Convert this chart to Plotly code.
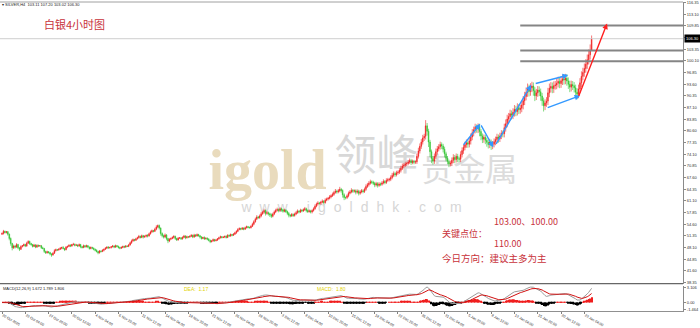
import numpy as np
import pandas as pd
import plotly.graph_objects as go

# ---------------- data (SILVER, H4) ----------------
first_open = 51.8
close_oct = [52.0, 52.6, 52.3,
             52.5, 51.8, 50.6, 49.2, 48.0, 48.5,
             48.2, 48.9, 48.0, 47.6, 48.4, 48.6,
             48.9, 48.5, 49.3, 49.8, 49.2, 48.9,
             48.4, 48.8, 48.2, 48.7, 48.5, 48.6,
             48.0, 47.8, 47.0, 46.6, 46.9, 46.7,
             46.3, 46.0, 46.5, 47.2, 47.5, 47.4,
             47.6, 47.9, 48.1, 47.8, 47.5, 48.2,
             48.4, 48.7, 48.5, 48.9, 49.0, 48.7,
             48.8, 48.5, 48.9, 48.3, 48.1, 48.6]
close_nov = [48.3, 48.6, 48.2, 47.8, 48.1, 47.9,
             47.6, 47.3, 47.0, 46.6, 47.1, 47.0,
             47.3, 47.6, 47.9, 48.2, 48.0, 48.1,
             48.3, 48.5, 48.2, 48.6, 48.4, 48.1,
             47.9, 48.1, 48.4, 48.2, 48.5, 48.4,
             48.8, 49.4, 49.9, 50.3, 50.1, 50.5,
             50.8, 51.2, 50.9, 51.4, 51.0, 51.2,
             51.5, 51.3, 51.9, 52.4, 52.8, 52.6,
             53.2, 53.8, 54.2, 53.5, 52.0, 51.4,
             51.0, 51.6, 50.6, 49.9, 50.4, 50.6,
             50.9, 51.2, 50.6, 50.2, 50.7, 50.8,
             50.5, 50.9, 51.3, 50.8, 51.1, 51.0,
             51.2, 51.5, 51.0, 51.6, 51.3, 51.7,
             51.4, 51.0, 50.6, 50.9, 50.5, 50.7,
             50.4, 50.1, 49.7, 49.9, 50.3, 50.0,
             50.2, 50.5, 50.8, 51.1, 50.9, 51.0,
             51.2, 50.9, 51.5, 51.3, 51.7, 51.5,
             51.8, 52.2, 52.6, 53.1, 53.4, 53.2,
             53.5, 53.2, 53.6, 53.9, 53.7, 53.6,
             54.0, 54.6, 55.3, 56.0, 56.6, 56.4]
close_dec = [56.9, 57.5, 57.9, 58.4, 57.6, 57.8,
             57.5, 57.2, 56.8, 57.4, 58.0, 58.4,
             58.7, 58.4, 58.9, 58.6, 58.2, 58.5,
             58.1, 57.6, 57.1, 56.9, 57.3, 57.0,
             57.4, 57.8, 58.2, 58.0, 58.5, 58.3,
             58.6, 58.9, 58.4, 58.1, 58.3, 58.0,
             58.4, 58.9, 59.6, 60.2, 60.5, 60.4,
             60.7, 61.0, 60.6, 61.3, 61.6, 61.8,
             62.2, 62.5, 62.9, 63.4, 63.8, 63.6,
             63.9, 64.3, 64.0, 62.8, 62.0, 62.0,
             62.5, 63.2, 63.6, 64.0, 63.8, 63.9,
             63.5, 63.8, 63.2, 63.6, 63.9, 63.7,
             64.3, 65.1, 65.6, 66.0, 66.4, 66.3,
             66.0, 65.5, 65.9, 65.4, 65.8, 65.7,
             66.1, 66.5, 66.2, 66.8, 67.0, 67.1,
             67.6, 68.2, 68.7, 68.4, 68.9, 69.1,
             69.6, 70.2, 70.8, 71.0, 71.4, 71.5,
             71.9, 72.3, 71.8, 72.1, 71.9, 72.0,
             73.5, 75.0, 76.3, 77.5, 78.6, 79.1,
             82.0, 80.5, 77.5, 74.8, 72.9, 72.2,
             73.5, 74.8, 75.6, 76.2, 76.8, 76.4,
             75.5, 74.2, 73.0, 72.1, 71.4, 71.6]
close_jan = [72.4, 73.2, 72.6, 73.5, 72.8, 72.7,
             74.0, 75.1, 76.0, 76.8, 77.3, 76.9,
             77.8, 78.9, 80.1, 80.9, 81.6, 81.2,
             81.8, 80.4, 79.2, 78.3, 78.8, 78.0,
             77.4, 76.8, 77.5, 76.5, 76.9, 77.6,
             78.2, 78.9, 78.4, 79.2, 79.9, 79.8,
             81.5, 82.6, 83.9, 84.6, 85.4, 85.0,
             85.8, 86.6, 86.0, 87.1, 86.5, 86.9,
             87.8, 89.0, 90.2, 91.3, 92.4, 91.6,
             92.6, 93.1, 91.8, 90.4, 91.2, 92.0,
             91.5, 90.3, 89.0, 87.6, 88.4, 88.9,
             91.2, 92.5, 93.0, 92.4, 93.2, 93.4,
             93.9, 94.4, 93.8, 94.6, 95.1, 94.8,
             95.3, 94.5, 93.6, 92.8, 93.5, 93.2,
             92.6, 91.4, 90.8, 92.3, 94.0, 95.8,
             96.9, 98.0, 99.2, 100.4, 101.8, 103.1,
             106.3]

# upper / lower shadow lengths in tenths of a dollar
wick_hi_oct = [3, 4, 2, 2, 2, 2, 3, 2, 4, 3, 4, 2, 2, 3, 2, 3, 2, 4, 3, 2, 2, 2, 3, 2, 3, 2, 2,
               2, 3, 2, 2, 3, 2, 2, 2, 3, 4, 3, 2, 3, 3, 2, 4, 2, 3, 2, 3, 3, 2, 4, 2, 3, 2, 3, 2, 2, 3]
wick_lo_oct = [2, 3, 3, 3, 4, 5, 6, 7, 3, 4, 2, 4, 5, 2, 3, 2, 3, 2, 2, 4, 3, 3, 2, 3, 2, 3, 2,
               3, 2, 4, 3, 2, 3, 4, 5, 2, 2, 2, 3, 2, 2, 3, 2, 4, 2, 3, 2, 3, 2, 2, 3, 2, 3, 2, 4, 3, 2]
wick_hi_nov = [2, 3, 2, 2, 3, 2, 2, 2, 3, 2, 3, 2, 3, 2, 3, 2, 3, 2, 2, 3, 2, 3, 2, 2,
               2, 3, 2, 2, 3, 2, 3, 3, 4, 3, 2, 3, 3, 4, 2, 3, 2, 3, 2, 3, 3, 4, 3, 2,
               4, 5, 3, 3, 2, 3, 3, 4, 2, 2, 3, 3, 3, 3, 2, 2, 3, 2, 2, 3, 3, 2, 3, 2,
               3, 3, 2, 3, 2, 3, 2, 2, 3, 2, 3, 2, 2, 3, 2, 3, 3, 2, 3, 2, 3, 3, 2, 2,
               2, 3, 3, 2, 3, 2, 3, 3, 3, 4, 3, 2, 3, 2, 3, 3, 2, 2, 3, 4, 4, 4, 5, 3]
wick_lo_nov = [3, 2, 3, 3, 2, 3, 3, 3, 3, 4, 2, 3, 2, 3, 2, 2, 3, 2, 3, 2, 3, 2, 3, 3,
               3, 2, 2, 3, 2, 2, 2, 2, 3, 2, 3, 2, 2, 2, 3, 2, 4, 2, 3, 4, 2, 2, 2, 3,
               2, 3, 3, 4, 6, 5, 4, 3, 5, 6, 3, 2, 2, 3, 4, 3, 2, 2, 3, 2, 2, 4, 2, 3,
               2, 2, 3, 2, 3, 2, 3, 4, 3, 2, 3, 2, 3, 3, 4, 2, 2, 3, 2, 3, 2, 2, 3, 2,
               3, 3, 2, 3, 2, 3, 2, 2, 3, 2, 2, 3, 2, 3, 2, 2, 3, 2, 2, 2, 3, 3, 2, 3]
wick_hi_dec = [4, 5, 4, 5, 3, 4, 3, 3, 4, 4, 4, 5, 5, 3, 4, 3, 3, 4, 3, 3, 4, 3, 4, 3,
               4, 4, 5, 3, 4, 3, 4, 5, 3, 3, 4, 3, 3, 4, 5, 4, 5, 3, 4, 5, 3, 5, 4, 4,
               5, 4, 5, 5, 6, 4, 5, 7, 4, 3, 4, 3, 4, 5, 5, 6, 4, 4, 4, 5, 4, 5, 5, 4,
               5, 6, 5, 6, 6, 4, 4, 4, 5, 4, 5, 4, 5, 6, 4, 6, 5, 4, 6, 7, 6, 5, 6, 5,
               6, 7, 7, 6, 6, 5, 6, 6, 5, 5, 4, 4, 8, 9, 8, 8, 9, 7, 16, 8, 7, 6, 6, 7,
               8, 9, 8, 7, 8, 6, 6, 7, 6, 6, 5, 7]
wick_lo_dec = [3, 4, 3, 4, 6, 4, 5, 6, 5, 3, 3, 3, 3, 5, 3, 5, 4, 3, 4, 5, 6, 4, 3, 4,
               3, 3, 3, 4, 3, 4, 3, 3, 5, 4, 3, 4, 4, 3, 3, 3, 4, 4, 4, 3, 5, 3, 3, 4,
               3, 4, 3, 4, 3, 5, 4, 4, 6, 8, 7, 5, 4, 4, 3, 4, 5, 4, 6, 4, 6, 4, 4, 5,
               4, 4, 4, 5, 4, 5, 5, 6, 4, 6, 4, 5, 4, 4, 5, 4, 4, 5, 5, 5, 5, 6, 5, 5,
               5, 6, 5, 6, 5, 6, 5, 5, 7, 5, 6, 5, 6, 6, 7, 7, 7, 8, 9, 12, 14, 15, 13, 10,
               8, 7, 8, 7, 8, 9, 9, 10, 9, 8, 9, 7]
wick_hi_jan = [8, 9, 7, 8, 7, 6, 9, 9, 8, 8, 9, 7, 9, 10, 10, 9, 10, 8, 9, 8, 7, 7, 8, 7,
               7, 8, 9, 7, 8, 9, 8, 9, 7, 9, 9, 8, 11, 12, 12, 10, 11, 9, 11, 12, 10, 12, 10, 10,
               12, 13, 13, 14, 14, 11, 13, 12, 10, 10, 11, 11, 10, 9, 9, 9, 10, 11, 14, 13, 12, 11, 12, 11,
               12, 13, 11, 13, 12, 11, 12, 11, 10, 10, 11, 10, 10, 9, 11, 12, 13, 14, 13, 14, 14, 15, 15, 16,
               9]
wick_lo_jan = [8, 8, 10, 8, 9, 8, 8, 8, 9, 8, 9, 10, 9, 10, 9, 10, 10, 11, 12, 13, 12, 11, 10, 11,
               12, 11, 10, 12, 10, 9, 10, 9, 11, 9, 9, 10, 10, 11, 10, 12, 11, 12, 11, 12, 13, 11, 12, 11,
               11, 12, 12, 11, 12, 14, 12, 12, 14, 15, 12, 11, 12, 13, 14, 16, 12, 11, 11, 12, 12, 13, 12, 11,
               12, 12, 13, 12, 12, 13, 12, 13, 13, 14, 12, 12, 13, 15, 14, 11, 11, 12, 11, 12, 12, 13, 13, 13,
               1]

x_tick_pos = [0, 16, 32, 48, 64, 80, 96, 112, 128, 144, 160, 176, 192, 208, 224,
              240, 256, 272, 288, 304, 320, 336, 352, 368, 384, 400]
x_tick_text = ["20 Oct 2025", "23 Oct 04:00", "27 Oct 20:00", "30 Oct 12:00", "4 Nov 04:00",
               "6 Nov 20:00", "11 Nov 12:00", "14 Nov 04:00", "18 Nov 20:00", "21 Nov 12:00",
               "26 Nov 04:00", "28 Nov 20:00", "3 Dec 12:00", "8 Dec 04:00", "10 Dec 20:00",
               "15 Dec 12:00", "18 Dec 04:00", "22 Dec 20:00", "26 Dec 12:00", "31 Dec 04:00",
               "5 Jan 20:00", "8 Jan 12:00", "13 Jan 04:00", "15 Jan 20:00", "20 Jan 12:00",
               "23 Jan 04:00"]
y_tick_text = ["116.35", "113.10", "109.85", "106.60", "103.35", "100.10", "96.85", "93.60",
               "90.35", "87.10", "83.85", "80.60", "77.35", "74.10", "70.85", "67.60", "64.35",
               "61.10", "57.85", "54.60", "51.35", "48.10", "44.85", "41.60", "38.35"]
key_levels = [110.0, 103.0, 100.0]
last_price = 106.30
macd_ticks = [3.106, 0.0, -1.464]
macd_tick_text = ["3.106", "0.00", "-1.464"]

# ---------------- build OHLC ----------------
closes = np.array(close_oct + close_nov + close_dec + close_jan, dtype=float)
opens = np.concatenate([[first_open], closes[:-1]])
hw = np.array(wick_hi_oct + wick_hi_nov + wick_hi_dec + wick_hi_jan, dtype=float) / 10
lw = np.array(wick_lo_oct + wick_lo_nov + wick_lo_dec + wick_lo_jan, dtype=float) / 10
highs = np.maximum(opens, closes) + hw
lows = np.minimum(opens, closes) - lw
idx = np.arange(len(closes))

s = pd.Series(closes)
dif = s.ewm(span=12, adjust=False).mean() - s.ewm(span=26, adjust=False).mean()
dea = dif.ewm(span=9, adjust=False).mean()
hist = dif - dea

# ---------------- layout geometry ----------------
W, H = 700, 328
ML, MR, MT, MB = 0, 16, 2, 9
PW, PH = W - ML - MR, H - MT - MB


def px_x(px):
    return (px - ML) / PW


def px_y(py):
    return (H - MB - py) / PH


def bar_of(px):
    return (px - 2) / 1.458


def price_of(py):
    return 38.0 + (291 - py) / 3.68


RED = "#f01e1e"
GREEN = "#2fc42f"
TXT_RED = "#c8323a"

fig = go.Figure()
fig.add_trace(go.Candlestick(
    x=idx, open=opens, high=highs, low=lows, close=closes,
    increasing=dict(line=dict(color=RED, width=0.6), fillcolor=RED),
    decreasing=dict(line=dict(color=GREEN, width=0.6), fillcolor=GREEN),
    whiskerwidth=0, xaxis="x", yaxis="y", showlegend=False, hoverinfo="skip"))

fig.add_trace(go.Bar(
    x=idx, y=hist, xaxis="x", yaxis="y2", width=0.75,
    marker=dict(color=[RED if v >= 0 else "#000000" for v in hist], line=dict(width=0)),
    showlegend=False, hoverinfo="skip"))
fig.add_trace(go.Scatter(x=idx, y=dif, xaxis="x", yaxis="y2", mode="lines",
                         line=dict(color="#9a9a9a", width=1), showlegend=False, hoverinfo="skip"))
fig.add_trace(go.Scatter(x=idx, y=dea, xaxis="x", yaxis="y2", mode="lines",
                         line=dict(color="#d01010", width=1), showlegend=False, hoverinfo="skip"))

shapes = []
# frame lines
shapes.append(dict(type="line", xref="paper", yref="paper", x0=0, x1=1, y0=1, y1=1,
                   line=dict(color="#a0a0a0", width=1)))
shapes.append(dict(type="line", xref="paper", yref="paper", x0=0, x1=1,
                   y0=px_y(291), y1=px_y(291), line=dict(color="#404040", width=1)))
# current price line
shapes.append(dict(type="line", xref="paper", yref="y", x0=0, x1=1, y0=last_price, y1=last_price,
                   line=dict(color="#cfcfcf", width=1)))
# key level lines
for lv in key_levels:
    shapes.append(dict(type="line", xref="x", yref="y", x0=bar_of(521), x1=bar_of(684), y0=lv, y1=lv,
                       line=dict(color="#858585", width=2)))


# watermark (below candles)
def wm(text, cx, cy, w, h, size, color, family):
    shapes.append(dict(type="rect", xref="paper", yref="paper",
                       x0=px_x(cx - w / 2), x1=px_x(cx + w / 2),
                       y0=px_y(cy + h / 2), y1=px_y(cy - h / 2),
                       line=dict(width=0), fillcolor="rgba(0,0,0,0)", layer="below",
                       label=dict(text=text, textposition="middle center",
                                  font=dict(size=size, color=color, family=family))))


wm("<b>igold</b>", 268, 168, 140, 60, 56, "#e9dbbd", "Liberation Serif")
wm("领峰", 377, 163, 90, 50, 42, "#d8d8d8", "Noto Sans CJK SC")
wm("贵金属", 470, 176, 110, 40, 32, "#dcdcdc", "Noto Sans CJK SC")
wm('<span style="letter-spacing:8px">www.igoldhk.com</span>', 356, 211, 310, 16, 14,
   "#d6d6d6", "Liberation Sans")

ann = []


def txt(text, x, y, size, color, family="Noto Sans CJK SC", anchor="left"):
    ann.append(dict(text=text, xref="paper", yref="paper", x=px_x(x), y=px_y(y),
                    xanchor=anchor, yanchor="middle", showarrow=False, borderpad=0,
                    font=dict(size=size, color=color, family=family)))


txt("▾ SILVER,H4  103.11 107.20 103.02 106.30", 1, 5, 4, "#202020", "Liberation Sans")
txt("白银4小时图", 43, 25, 11, TXT_RED)
txt("103.00、100.00", 494, 227, 9, TXT_RED)
txt("关键点位：", 442, 239, 9, TXT_RED)
txt("110.00", 494, 250, 9, TXT_RED)
txt("今日方向：建议主多为主", 442, 265, 9.5, TXT_RED)
txt("MACD(12,26,9) 1.672 1.789 1.806", 2, 296, 4, "#202020", "Liberation Sans")
txt("DEA:  1.17", 183, 296, 5, "#e2d200", "Liberation Sans")
txt("MACD:  1.80", 316, 296, 5, "#e2d200", "Liberation Sans")

# price tag on axis
ann.append(dict(text="106.30", xref="paper", yref="y", x=1, y=last_price, xanchor="left",
                yanchor="middle", xshift=1, showarrow=False, bgcolor="#000000", borderpad=1,
                font=dict(size=4, color="#ffffff", family="Liberation Sans")))


def arrow(p0, p1, color):
    ann.append(dict(text="", xref="x", yref="y", axref="x", ayref="y",
                    x=bar_of(p1[0]), y=price_of(p1[1]), ax=bar_of(p0[0]), ay=price_of(p0[1]),
                    showarrow=True, arrowhead=2, arrowsize=0.8, arrowwidth=1.4, arrowcolor=color))


BLUE = "#3399ff"
arrow((463, 150), (481, 127), BLUE)
arrow((481, 127), (494, 151), BLUE)
arrow((496, 149), (532, 87), BLUE)
arrow((535, 86), (569, 77), BLUE)
arrow((547, 111), (581, 98), BLUE)
arrow((579, 100), (608, 24), "#ff2020")

fig.update_layout(
    width=W, height=H, margin=dict(l=ML, r=MR, t=MT, b=MB),
    paper_bgcolor="#ffffff", plot_bgcolor="#ffffff", showlegend=False,
    bargap=0.3, shapes=shapes, annotations=ann,
    xaxis=dict(domain=[0, 1], anchor="y2", range=[bar_of(0), bar_of(684)],
               rangeslider=dict(visible=False), showgrid=False, zeroline=False,
               showline=True, linecolor="#909090", linewidth=1,
               tickvals=x_tick_pos, ticktext=x_tick_text, ticks="outside", ticklen=2,
               tickcolor="#808080", ticklabelposition="outside right",
               tickfont=dict(size=3.6, color="#303030", family="Liberation Sans")),
    yaxis=dict(domain=[px_y(291), 1], range=[38.0, 38.0 + 289 / 3.68], side="right",
               showgrid=False, zeroline=False, showline=True, linecolor="#8a8a8a", linewidth=1,
               tickvals=[float(t) for t in y_tick_text], ticktext=y_tick_text,
               ticks="outside", ticklen=2, tickcolor="#8a8a8a",
               tickfont=dict(size=4, color="#303030", family="Liberation Sans")),
    yaxis2=dict(domain=[0, px_y(293)], range=[-1.75, 3.5], side="right",
                anchor="x", showgrid=False, zeroline=False, showline=True, linecolor="#8a8a8a",
                linewidth=1, tickvals=macd_ticks, ticktext=macd_tick_text, ticks="outside",
                ticklen=2, tickcolor="#8a8a8a",
                tickfont=dict(size=4, color="#303030", family="Liberation Sans")),
)

fig.write_html("out.html")
